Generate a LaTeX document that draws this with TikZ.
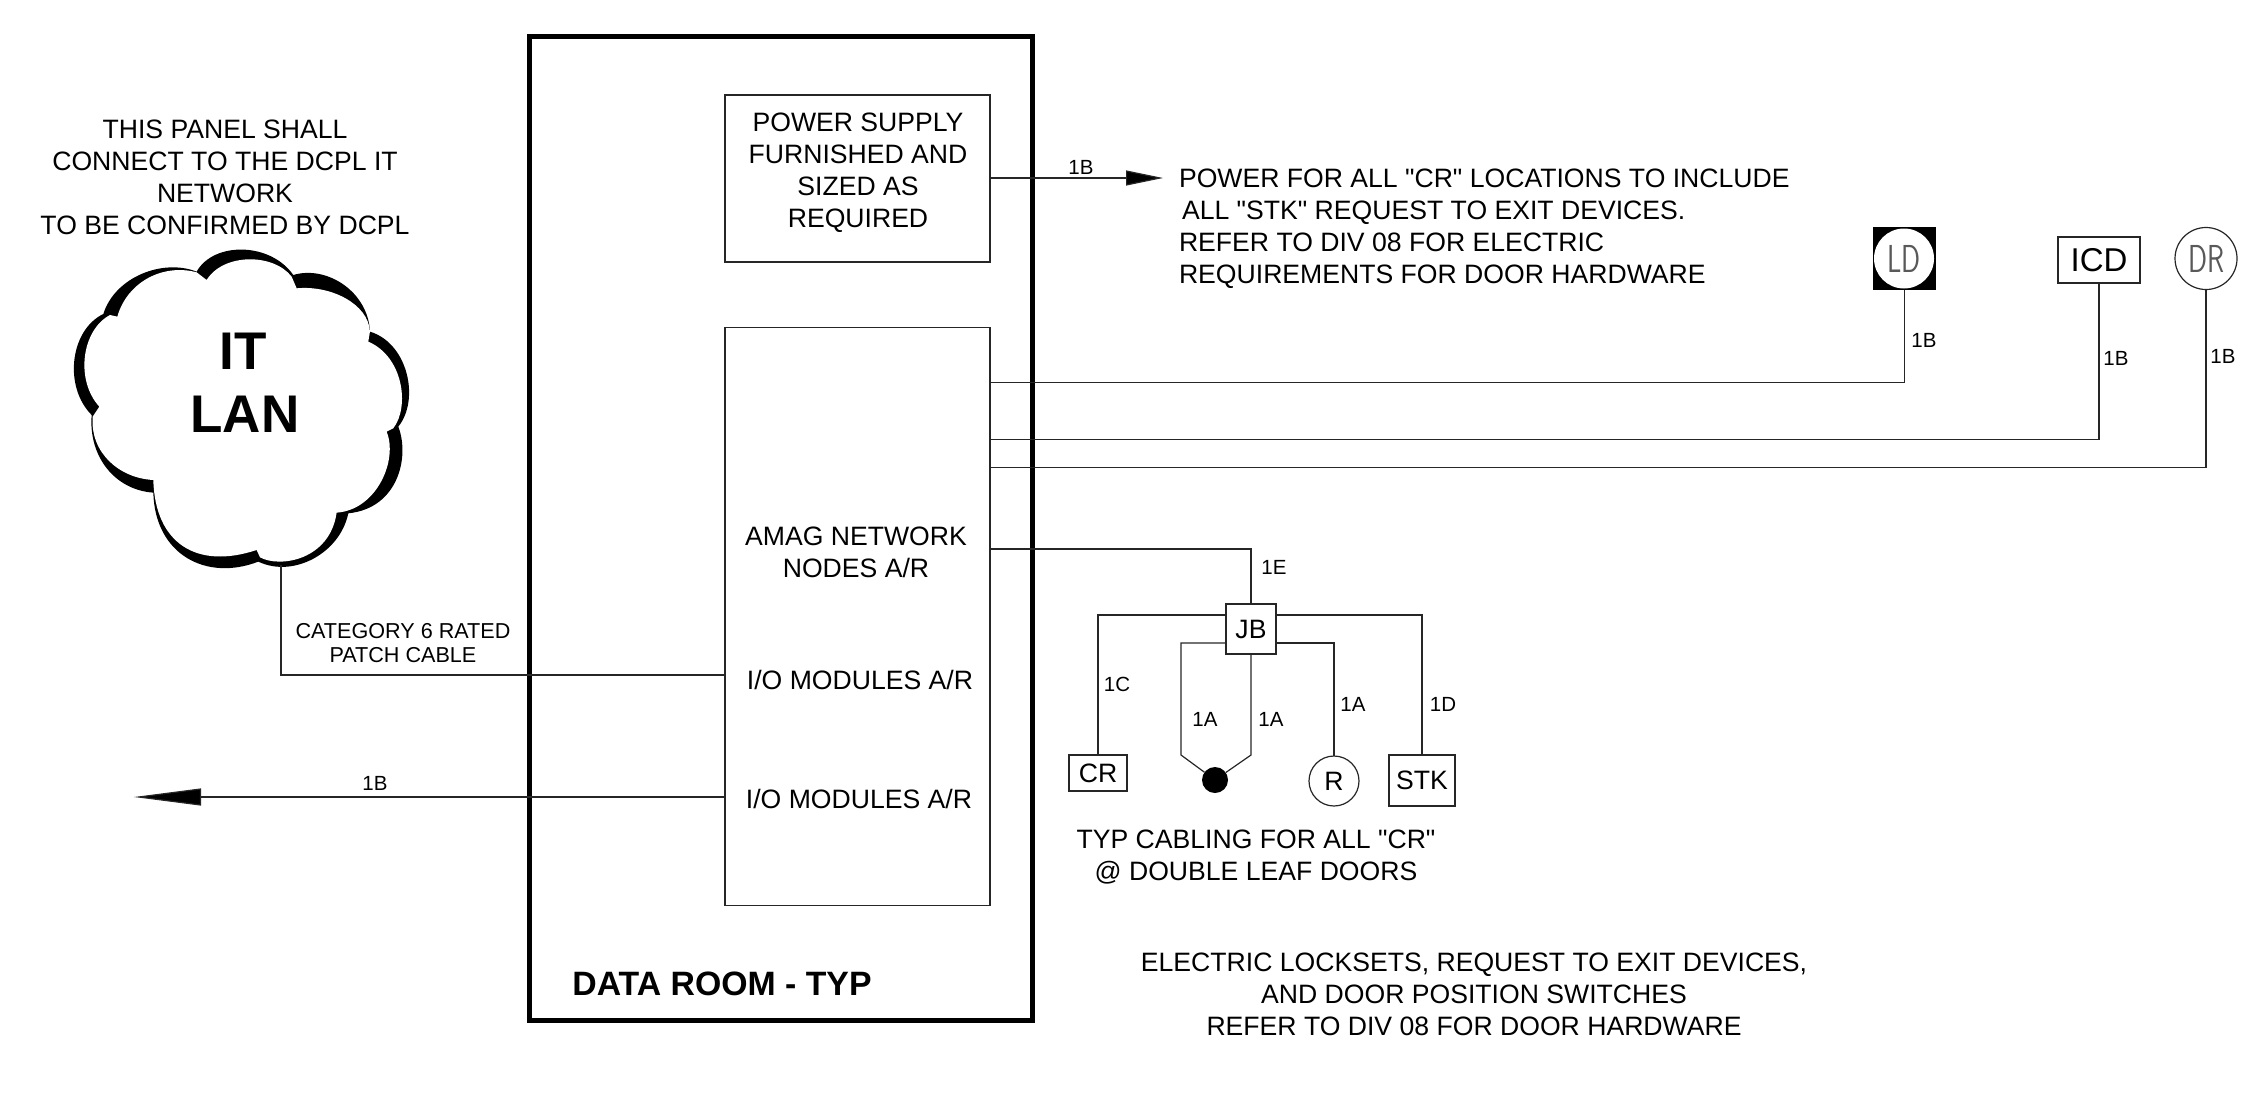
\documentclass[tikz,border=0pt]{standalone}
\usepackage{fontspec}
\setmainfont[Ligatures=TeXOff]{Liberation Sans}
\newfontfamily\thinfont{Latin Modern Sans}
\usetikzlibrary{positioning, arrows.meta}
\newcommand{\txtsize}[1]{\fontsize{#1}{#1}\selectfont}
\begin{document}
\begin{tikzpicture}[x=1pt, y=-1pt,
  every node/.style={inner sep=0pt, outer sep=0pt, align=center, font=\txtsize{26.6}},
  wire/.style={line width=1.2pt, black!85},
  box/.style={draw, line width=1.2pt, black!85, text=black},
  round/.style={box, circle},
  wirelabel/.style={font=\txtsize{20.5}},
  longtext/.style={font=\fontsize{26.6}{32}\selectfont},
  headtext/.style={font=\bfseries\txtsize{33.8}},
  thinlabel/.style={font=\thinfont\txtsize{39}, text=black!65, xscale=.72}]
  \useasboundingbox (0,0) rectangle (2259,1095);

  \node[draw, line width=4.5pt, minimum width=503pt, minimum height=984pt] (room) at (781,528.5) {};
  \node[box, minimum width=265pt, minimum height=167pt] (power) at (857.5,178.5) {};
  \node[box, minimum width=265pt, minimum height=578pt] (nodes) at (857.5,616.5) {};
  \node[longtext] (powertext) at (858,173) {POWER SUPPLY\\FURNISHED AND\\SIZED AS\\REQUIRED};
  \node[longtext] (amag) at (856,552) {AMAG NETWORK\\NODES A/R};
  \node (iomod1) at (860,680) {I/O MODULES A/R};
  \node (iomod2) at (859,799) {I/O MODULES A/R};
  \node[headtext] (roomtext) at (722,984) {DATA ROOM - TYP};

  \fill[shift={(40,220)}, x=.3333pt, y=-.3333pt]
    (190,282) .. controls (225,170) and (370,115) .. (470,155)
    .. controls (520,65) and (690,65) .. (760,165)
    .. controls (860,135) and (985,215) .. (990,335)
    .. controls (1105,370) and (1140,540) .. (1075,620)
    .. controls (1110,710) and (1075,865) .. (925,880)
    .. controls (900,1000) and (760,1075) .. (655,1025)
    .. controls (500,1085) and (345,1005) .. (340,818)
    .. controls (225,810) and (145,710) .. (155,585)
    .. controls (70,500) and (90,330) .. (190,282) -- cycle;
  \fill[white, shift={(40,220)}, x=.3333pt, y=-.3333pt]
    (232,290) .. controls (262,185) and (370,130) .. (470,157) -- (500,180)
    .. controls (550,99) and (700,99) .. (755,170) -- (770,205)
    .. controls (870,195) and (985,250) .. (990,335) -- (985,365)
    .. controls (1090,410) and (1110,560) .. (1060,625) -- (1040,635)
    .. controls (1075,720) and (1010,870) .. (890,878)
    .. controls (870,1020) and (720,1045) .. (660,1012) -- (650,990)
    .. controls (470,1050) and (345,970) .. (340,780)
    .. controls (240,775) and (150,700) .. (158,590) -- (178,560)
    .. controls (105,480) and (125,330) .. (210,285) -- cycle;
  \node[font=\bfseries\txtsize{53}] (it) at (243,351) {IT};
  \node[font=\bfseries\txtsize{53}] (lan) at (245,414) {LAN};
  \coordinate (lanout) at (281,565);
  \node[longtext] (panel) at (225,177) {THIS PANEL SHALL\\CONNECT TO THE DCPL IT\\NETWORK\\TO BE CONFIRMED BY DCPL};

  \node[font=\fontsize{21.6}{24.5}\selectfont] (cable) at (403,643) {CATEGORY 6 RATED\\PATCH CABLE};
  \coordinate (in1) at (nodes.west |- 0,675);
  \coordinate (out1) at (nodes.west |- 0,797);
  \coordinate (tip1) at (134,797);
  \draw[wire] (lanout) |- (in1);
  \draw[wire, -{Triangle[length=67pt, width=17pt, fill=black]}] (out1) -- (tip1);
  \node[wirelabel] (w1) at (375,783) {1B};

  \coordinate (out2) at (power.east |- 0,178);
  \coordinate (tip2) at (1163,178);
  \draw[wire, -{Triangle[length=37pt, width=15pt, fill=black]}] (out2) -- (tip2);
  \node[wirelabel] (w2) at (1081,167) {1B};
  \node[longtext, align=left, anchor=west] (powernote) at (1179,229) {POWER FOR ALL "CR" LOCATIONS TO INCLUDE\\\hspace*{3pt}ALL "STK" REQUEST TO EXIT DEVICES.\\REFER TO DIV 08 FOR ELECTRIC\\REQUIREMENTS FOR DOOR HARDWARE};

  \node[fill=black, minimum size=63pt] (ldsq) at (1904.5,258.5) {};
  \node[circle, fill=white, minimum size=60pt] (ld) at (1904,258.5) {};
  \node[thinlabel] (ldtext) at (1904,258.5) {LD};
  \node[box, minimum width=82pt, minimum height=46pt, font=\txtsize{33}] (icd) at (2099,260) {ICD};
  \node[round, minimum size=62pt] (dr) at (2206,258.5) {};
  \node[thinlabel] (drtext) at (2206,258.5) {DR};
  \coordinate (out3) at (nodes.east |- 0,382.5);
  \coordinate (out4) at (nodes.east |- 0,439.5);
  \coordinate (out5) at (nodes.east |- 0,467.5);
  \draw[wire] (out3) -| (ldsq.south);
  \draw[wire] (out4) -| (icd.south);
  \draw[wire] (out5) -| (dr.south);
  \node[wirelabel] (w3) at (1924,340) {1B};
  \node[wirelabel] (w4) at (2116,358) {1B};
  \node[wirelabel] (w5) at (2223,356) {1B};

  \node[box, minimum size=50pt] (jb) at (1251,629) {JB};
  \node[box, minimum width=58pt, minimum height=36pt] (cr) at (1098,773) {CR};
  \node[circle, fill=black, minimum size=26pt] (dot) at (1215,780) {};
  \node[round, minimum size=50pt] (r) at (1334,781) {R};
  \node[box, minimum width=66pt, minimum height=51pt] (stk) at (1422,780.5) {STK};
  \coordinate (out6) at (nodes.east |- 0,549);
  \coordinate (jbl1) at (jb.west |- 0,615);
  \coordinate (jbr1) at (jb.east |- 0,615);
  \coordinate (jbl2) at (jb.west |- 0,643);
  \coordinate (jbr2) at (jb.east |- 0,643);
  \coordinate (bendl) at (1181,755);
  \coordinate (bendr) at (1251,755);
  \draw[wire] (out6) -| (jb.north);
  \draw[wire] (jbl1) -| (cr.north);
  \draw[wire] (jbr1) -| (stk.north);
  \draw[wire] (jbr2) -| (r.north);
  \draw[wire] (jbl2) -| (bendl) -- (dot);
  \draw[wire] (jb.south) -- (bendr) -- (dot);
  \node[wirelabel] (w6) at (1274,567) {1E};
  \node[wirelabel] (w7) at (1117,684) {1C};
  \node[wirelabel] (w8) at (1205,719) {1A};
  \node[wirelabel] (w9) at (1271,719) {1A};
  \node[wirelabel] (w10) at (1353,704) {1A};
  \node[wirelabel] (w11) at (1443,704) {1D};

  \node[longtext] (typnote) at (1256,857) {TYP CABLING FOR ALL "CR"\\@ DOUBLE LEAF DOORS};
  \node[longtext] (locknote) at (1474,994) {ELECTRIC LOCKSETS, REQUEST TO EXIT DEVICES,\\AND DOOR POSITION SWITCHES\\REFER TO DIV 08 FOR DOOR HARDWARE};
\end{tikzpicture}
\end{document}
